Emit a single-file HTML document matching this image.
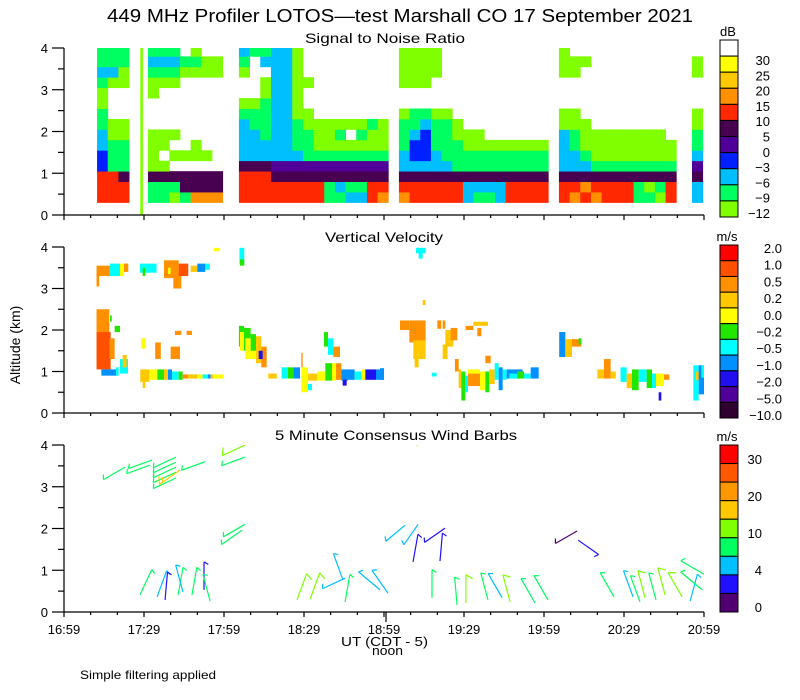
<!DOCTYPE html>
<html><head><meta charset="utf-8"><title>449 MHz Profiler LOTOS-test</title>
<style>
html,body{margin:0;padding:0;background:#fff;}
svg{display:block;font-family:"Liberation Sans",sans-serif;}
</style></head>
<body>
<svg id="chart" width="800" height="700" viewBox="0 0 800 700" xmlns="http://www.w3.org/2000/svg">
<rect width="800" height="700" fill="#fff"/>
<text x="107" y="22" font-size="18" textLength="586" lengthAdjust="spacingAndGlyphs">449 MHz Profiler LOTOS—test Marshall CO 17 September 2021</text>
<text x="305" y="43" font-size="14" textLength="160" lengthAdjust="spacingAndGlyphs">Signal to Noise Ratio</text>
<text x="325" y="242" font-size="14" textLength="118" lengthAdjust="spacingAndGlyphs">Vertical Velocity</text>
<text x="275" y="440" font-size="14" textLength="242" lengthAdjust="spacingAndGlyphs">5 Minute Consensus Wind Barbs</text>
<text transform="translate(20,345) rotate(-90)" text-anchor="middle" font-size="14">Altitude (km)</text>
<text x="341" y="646" font-size="13" textLength="87" lengthAdjust="spacingAndGlyphs">UT  (CDT - 5)</text>
<text x="372" y="655" font-size="13" textLength="31" lengthAdjust="spacingAndGlyphs">noon</text>
<text x="80" y="679" font-size="12" textLength="136" lengthAdjust="spacingAndGlyphs">Simple filtering applied</text>
<g id="g"></g>
</svg>
<script>
// ---------- data ----------
const timeTickLabels = ["16:59","17:29","17:59","18:29","18:59","19:29","19:59","20:29","20:59"];
const altTickLabels = ["0","1","2","3","4"];
const snrLegendLabels = ["30","25","20","15","10","5","0","−3","−6","−9","−12"];
const velLegendLabels = ["2.0","1.0","0.5","0.2","0.0","−0.2","−0.5","−1.0","−2.0","−5.0","−10.0"];
const windLegendLabels = ["30","20","10","4","0"];
// SNR columns: start minute (after 16:59), profile string bottom->top, 0.25 km bins from 0.3 km
const snrStart = [12.4,16.4,20.4, 31.5,35.5,39.5,43.5,47.5,51.5,55.5,
 65.6,69.6,73.6,77.6,81.6,85.6,89.6,93.6,97.6,101.6,105.6,109.6,113.6,117.6,
 125.6,129.6,133.6,137.6,141.6,145.6,149.6,153.6,157.6,161.6,165.6,169.6,173.6,177.6,
 185.6,189.6,193.6,197.6,201.6,205.6,209.6,213.6,217.6,221.6,225.6, 235.5];
const snrProfile = ["666332211001211","66611100...0211","66511100...0011",
 "1150000...00121","1150.00....0121","015.0.0....0121","155.0.......01.","755.00......010","755.0.......00.","755.........00.",
 "6665222210..012","6665222110....1","666522111100.21","665422222222222","665422222222222","665421110000000","665411100..0...","66541000.......","11541000.......","12541010.......","215410.0.......","21541010.......","66541001.......","76541000.......",
 "765221110..0000","665233211..0000","665233321..0000","665221110...000","665211110......","66511100.......","2251100........","1251100........","125110.........","225110.........","665110.........","665110.........","665110.........","665110.........",
 "665222200...000","765221100...00.","67521000.....0.","7651000........","6651000........","6651000........","6651000........","1151000........","1051000........","0151000........","665100.........",
 "225421100...00."];
const snrSpike = [28.6, 29.6];
// Vertical velocity patches: [startMin, endMin, bottomKm, topKm, level]
const velPatches = [
 [12.2,17,1.9,2.5,2],[12.2,17.5,1.05,1.95,1],[17,19,1.3,1.8,2],[14,20,0.9,1.05,7],[19.5,20.5,0.9,1.1,6],
 [12.2,17.2,3.3,3.55,2],[12.2,13.2,3.05,3.4,2],[17.2,21,3.3,3.6,6],[21,22.5,3.3,3.6,4],[22.5,24.1,3.4,3.6,2],
 [28.5,34.7,3.38,3.6,6],[29.5,30.5,3.3,3.5,5],
 [37.5,43,3.25,3.68,2],[41,44,3.0,3.4,2],[43,46.6,3.3,3.6,1],[39,40,3.35,3.5,4],
 [47.5,50,3.4,3.55,3],[50,53,3.4,3.6,7],[53,54.7,3.45,3.6,6],
 [56.2,58.2,3.9,3.98,4],[65.8,67.6,3.58,3.98,6],[66,67.6,3.55,3.7,5],
 [17.25,17.9,2.2,2.35,5],[19,21,1.95,2.1,5],[41.6,44,1.88,1.98,2],[46,48,1.88,1.98,2],
 [29,30.7,1.55,1.8,4],[34.2,36.3,1.3,1.7,2],[40,43.5,1.3,1.6,2],
 [21,24,0.95,1.3,6],[22,23.5,1.1,1.4,3],
 [28.6,32,0.75,1.05,3],[29.5,30.5,0.6,0.8,3],[32,35,0.8,1.05,4],[35,37.5,0.8,1.05,5],[37.5,39,0.8,1.05,3],[39,40.5,0.8,1.05,7],[40.5,43,0.8,1.0,6],[43,44.5,0.8,1.0,5],[44.5,46.5,0.83,0.93,2],[46.5,50,0.83,0.93,3],[50,52,0.83,0.93,4],[52,54,0.83,0.93,6],[54,55,0.83,0.93,7],[55,56,0.83,0.93,3],[56,59.8,0.83,0.93,4],
 [76.6,79.8,0.83,0.95,3],[81.6,84,0.83,1.1,6],[84,86,0.83,1.1,5],[86,88.5,0.83,1.1,7],
 [89,91.5,0.5,1.1,4],[89,89.5,1.1,1.45,2],[91.5,95,0.78,0.95,3],[95,98,0.78,1.0,4],[98,100.5,0.78,1.2,5],[100.5,102,0.78,1.2,4],[102,104,0.8,1.2,2],[104,106.5,0.78,1.05,7],[104.5,106,0.66,0.8,8],[106.5,109,0.8,1.05,7],[109,111.5,0.8,1.0,6],[111.5,113,0.8,1.05,4],[113,117,0.8,1.05,8],[117,120,0.8,1.05,7],[91.5,93,0.55,0.7,6],
 [97.5,99,1.6,1.95,5],[99,101,1.4,1.8,6],[101,103.5,1.35,1.6,2],
 [65.6,67.5,1.6,2.1,5],[66,68,1.5,1.95,4],[67.5,70,1.5,2.05,5],[68,72,1.3,1.8,4],[70,72,1.5,1.9,5],[72,74,1.2,1.85,3],[74,76,1.1,1.6,2],[73,74.5,1.3,1.5,8],
 [132,135.6,3.85,3.98,6],[133,134.5,3.72,3.88,6],[134.5,135.6,2.6,2.72,3],[118.5,120,0.8,1.08,7],
 [126,129.5,2.0,2.23,2],[129.5,135.6,1.7,2.23,2],[131,135.6,1.3,1.75,3],[131.5,133,1.1,1.35,3],[137.9,139.7,0.88,0.97,6],
 [140,141.5,2.03,2.23,2],[142,143,2.03,2.23,2],[143,146,1.6,2.0,3],[142,143.8,1.3,1.65,3],[145,147.5,1.75,2.05,2],
 [150.6,153.5,2.0,2.1,2],[153.5,159,2.1,2.2,3],[155,156.5,1.85,2.05,2],
 [146.6,148,1.0,1.3,2],[148,149,0.6,1.05,3],[149,150.5,0.3,1.0,5],[150.5,151.5,0.5,0.9,6],[151.5,156,0.65,0.95,2],[151.5,156,0.95,1.05,4],[156,158,0.55,1.0,4],[158,159.5,0.5,1.0,5],[159.5,161.5,0.7,1.05,3],[161.5,163,0.8,1.2,6],[163,164.5,0.55,1.1,7],[164.5,166,0.8,1.05,6],[166,172,0.83,1.05,7],[167,170,0.83,0.95,6],[170,172.5,0.83,1.0,5],[172.5,175,0.83,0.95,6],[175,178,0.83,1.1,7],[158,160,1.2,1.38,2],
 [185.7,188,1.35,1.95,7],[188,190.5,1.35,1.78,3],[190.5,194,1.6,1.78,2],[193,194,1.65,1.8,5],
 [200,202.5,0.83,1.05,3],[202.5,205,0.83,1.3,2],[205,206.9,0.83,1.0,3],
 [208.7,211,0.75,1.1,6],[211,213,0.6,0.95,3],[213,215.5,0.55,1.05,5],[215.5,218.5,0.75,1.05,6],[218.5,220.5,0.6,1.05,5],[220.5,222,0.6,0.95,6],[222,225,0.65,0.95,4],[225,227,0.8,0.93,2],[223,224,0.3,0.5,8],
 [236,238,0.3,1.15,6],[237,238.5,0.8,1.0,3],[238,240,0.45,1.15,7],[239,240,0.85,1.15,6]
];
// Wind barbs: [minute, km, direction deg (from), speed m/s]
const barbs = [
 [22.9,3.47,240,8],[33,3.64,250,8],[32.3,3.52,250,8],[42,3.71,245,8],[42,3.59,245,8],[42,3.47,245,8],[42,3.35,245,8],[42,3.21,245,8],[43.5,3.4,235,17],[52.9,3.6,250,8],[67.9,4.0,245,12],[67.9,3.71,250,8],[67.9,2.1,240,8],[66.8,1.96,235,8],
 [28.5,0.41,25,8],[34.9,0.36,20,5],[37.9,0.29,5,3],[42.8,0.41,10,8],[44.6,0.48,345,5],[48,0.41,10,8],[52.5,0.53,0,3],[54.8,0.26,345,8],
 [87.4,0.29,20,12],[92.3,0.31,20,12],[105.4,0.81,245,5],[104.6,0.77,340,5],[105.4,0.24,10,8],[118.5,0.53,310,5],[121.5,0.45,325,5],
 [132.8,4.0,280,12],[127.9,2.08,230,5],[132.8,2.1,215,5],[130.9,1.2,10,3],[142.9,2.01,235,3],[141,1.22,5,3],[192.4,1.94,240,1],[192.8,1.72,125,3],
 [138,0.34,0,8],[147.4,0.17,355,8],[150.7,0.22,0,12],[159,0.29,345,8],[164.3,0.34,330,5],[167.3,0.24,345,12],[176.6,0.22,330,8],[181.5,0.29,330,8],
 [206.3,0.36,330,8],[213.4,0.36,340,5],[217.9,0.34,345,12],[216,0.24,340,8],[222,0.29,345,8],[225.4,0.41,345,12],[231.8,0.36,330,12],[234.8,0.26,15,5],[239.3,0.53,310,8],[240.4,0.89,300,8]
];
// ---------- styles ----------
const snrColors = ["#80ff00","#00ff60","#00bfff","#0020ff","#500098","#480050","#ff2800","#ff9000","#ffc800","#ffff00"];
const snrLegendColors = ["#ffffff","#ffff00","#ffc800","#ff9000","#ff2800","#480050","#500098","#0020ff","#00bfff","#00ff60","#80ff00"];
const velColors = ["#ff0000","#ff5000","#ff9000","#ffc800","#ffff00","#22e600","#00ffff","#0090ff","#2010f0","#500098","#300030"];
const windColors = ["#ff0000","#ff5800","#ff9800","#ffc800","#80ff00","#00ff60","#00c0ff","#2010ff","#500070"];
const NS="http://www.w3.org/2000/svg";
const root=document.getElementById('g');
function el(tag,attrs,parent){const e=document.createElementNS(NS,tag);for(const k in attrs)e.setAttribute(k,attrs[k]);(parent||root).appendChild(e);return e;}
const X0=64,X1=704;
function xs(m){return X0+m*(X1-X0)/240;}
const panels=[{top:48,zero:215},{top:247,zero:413},{top:445,zero:612}];
function ys(p,km){return p.zero-km*(p.zero-p.top)/4;}
const defs=el('defs',{});
panels.forEach((p,i)=>{const c=el('clipPath',{id:'clip'+i},defs);el('rect',{x:X0,y:p.top,width:X1-X0,height:p.zero-p.top},c);});
// ---------- SNR heatmap ----------
const snrG=el('g',{'clip-path':'url(#clip0)'});


snrStart.forEach((t,i)=>{
  const prof=snrProfile[i];
  for(let r=0;r<prof.length;r++){
    const ch=prof[r]; if(ch==='.')continue;
    const z0=0.3+r*0.25, z1=Math.min(4,z0+0.25);
    const x=xs(t), w=xs(t+4)-x+0.4, y=ys(panels[0],z1), h=ys(panels[0],z0)-y+0.4;
    const c=el('rect',{x:x,y:y,width:w,height:h,fill:snrColors[+ch]},snrG);
    
    
  }
});
const sp=el('rect',{x:xs(snrSpike[0]),y:ys(panels[0],4),width:xs(snrSpike[1])-xs(snrSpike[0]),height:ys(panels[0],0)-ys(panels[0],4)+3,fill:snrColors[0]},snrG);


// ---------- velocity ----------
const velG=el('g',{'clip-path':'url(#clip1)'});


velPatches.forEach(v=>{
  const x=xs(v[0]),w=xs(v[1])-x,y=ys(panels[1],v[3]),h=ys(panels[1],v[2])-y;
  const c=el('rect',{x:x,y:y,width:w,height:h,fill:velColors[v[4]]},velG);
  
  
});
// ---------- wind barbs ----------
function windColor(s){if(s<2)return windColors[8];if(s<4)return windColors[7];if(s<7)return windColors[6];if(s<10)return windColors[5];if(s<15)return windColors[4];if(s<20)return windColors[3];if(s<25)return windColors[2];if(s<30)return windColors[1];return windColors[0];}
const barbG=el('g',{'clip-path':'url(#clip2)'});


barbs.forEach(b=>{
  const bx=xs(b[0]),by=ys(panels[2],b[1]);
  const a=b[2]*Math.PI/180, ux=Math.sin(a), uy=-Math.cos(a);
  const L=(b[1]<1.5&&(b[2]<60||b[2]>290))?28:25;
  const tx=bx+ux*L, ty=by+uy*L;
  const col=windColor(b[3]);
  const g=el('g',{stroke:col,'stroke-width':1.2,fill:'none'},barbG);
  
  
  let d='M'+bx+' '+by+'L'+tx+' '+ty;
  const fa=2.1, fx=ux*Math.cos(fa)-uy*Math.sin(fa), fy=ux*Math.sin(fa)+uy*Math.cos(fa);
  let full=Math.floor(b[3]/10), half=(b[3]%10)>=3?1:0;
  if(full===0&&half===0)half=1;
  let pos=0;
  for(let k=0;k<full;k++){const px=tx-ux*pos,py=ty-uy*pos;d+='M'+px+' '+py+'l'+fx*8+' '+fy*8;pos+=4;}
  for(let k=0;k<half;k++){const px=tx-ux*pos,py=ty-uy*pos;d+='M'+px+' '+py+'l'+fx*5+' '+fy*5;pos+=4;}
  el('path',{d:d},g);
});
// ---------- axes ----------
panels.forEach((p,i)=>{
  const ax=el('g',{stroke:'#000','stroke-width':1.2,fill:'none'});
  
  
  el('path',{d:'M'+X0+' '+p.top+'L'+X0+' '+p.zero+'L'+X1+' '+p.zero},ax);
  for(let k=0;k<=8;k++){const y=ys(p,k*0.5);el('line',{x1:X0-(k%2===0?12:6),x2:X0,y1:y,y2:y},ax);}
  for(let m=0;m<=240;m+=10){const x=xs(m);el('line',{x1:x,x2:x,y1:p.zero,y2:p.zero+(m%30===0?5:3)},ax);}
  altTickLabels.forEach((lab,k)=>{
    const t=el('text',{x:48,y:ys(p,k)+5,'text-anchor':'end','font-size':13,fill:'#000'});
    
    
    t.textContent=lab;
  });
});
el('line',{x1:xs(120)+2,x2:xs(120)+2,y1:612,y2:622,stroke:'#000','stroke-width':1.2});
timeTickLabels.forEach((lab,k)=>{
  const t=el('text',{x:xs(k*30),y:634,'text-anchor':'middle','font-size':13,fill:'#000'});
  
  
  t.textContent=lab;
});
// ---------- legends ----------
function colorbar(name,unit,colors,labels,top,bottom,labelTop,labelBottom,labelX,unitX){
  const g=el('g',{});
  
  
  const h=(bottom-top)/colors.length;
  colors.forEach((c,i)=>{el('rect',{x:720,y:top+i*h,width:18,height:h,fill:c,stroke:'#000','stroke-width':1},g);});
  labels.forEach((l,i)=>{
    const t=el('text',{x:labelX,y:labelTop+i*(labelBottom-labelTop)/(labels.length-1)+5,'text-anchor':'end','font-size':13,fill:'#000'},g);
    
    
    t.textContent=l;
  });
  const u=el('text',{x:unitX,y:top-4,'text-anchor':'middle','font-size':13,fill:'#000'},g);
  
  
  u.textContent=unit;
}
colorbar('snr-colorbar','dB',snrLegendColors,snrLegendLabels,40,217,60,213,770,728);
colorbar('velocity-colorbar','m/s',velColors,velLegendLabels,245,418,248,415,782,727);
colorbar('wind-colorbar','m/s',windColors,windLegendLabels,445,612,459,607,762,727);
</script>
</body></html>
